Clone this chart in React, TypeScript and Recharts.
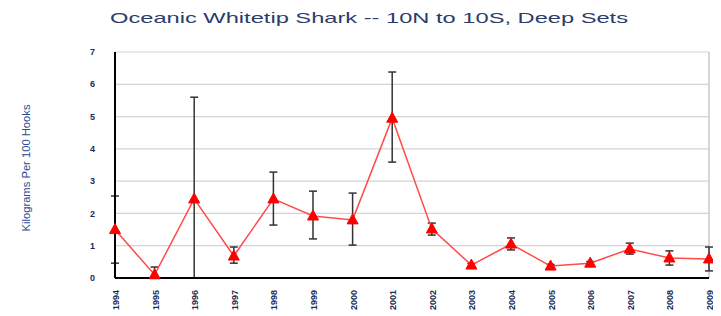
import React from 'react';
import { LineChart, Line, XAxis, YAxis, CartesianGrid, ErrorBar, ReferenceLine } from 'recharts';

const years = [1994, 1995, 1996, 1997, 1998, 1999, 2000, 2001, 2002, 2003, 2004, 2005, 2006, 2007, 2008, 2009];
const cpue = [1.5, 0.1, 2.45, 0.68, 2.45, 1.92, 1.8, 4.95, 1.52, 0.4, 1.05, 0.37, 0.46, 0.9, 0.62, 0.59];
const errLow = [1.04, 0.1, 2.45, 0.22, 0.81, 0.71, 0.78, 1.36, 0.19, 0.05, 0.18, 0.05, 0.05, 0.16, 0.22, 0.37];
const errHigh = [1.04, 0.24, 3.15, 0.28, 0.83, 0.77, 0.83, 1.43, 0.18, 0.05, 0.19, 0.05, 0.05, 0.18, 0.22, 0.37];
const yTicks = [0, 1, 2, 3, 4, 5, 6, 7];
const titleText = 'Oceanic Whitetip Shark -- 10N to 10S, Deep Sets';
const yLabelText = 'Kilograms Per 100 Hooks';

const data = years.map((y, i) => ({ year: y, value: cpue[i], err: [errLow[i], errHigh[i]] }));

const FONT = "Arial, 'Liberation Sans', sans-serif";

const Triangle = (props: any) => {
  const { cx, cy } = props;
  if (cx == null || cy == null) return null;
  return <polygon points={`${cx},${cy - 6} ${cx - 5.5},${cy + 4} ${cx + 5.5},${cy + 4}`} fill="#ff0000" stroke="#ff0000" />;
};

const XTick = (props: any) => {
  const { x, y, payload } = props;
  return (
    <text transform={`translate(${x + 1},${y + 4}) rotate(-90)`} textAnchor="end" dominantBaseline="central"
      fontSize={9} fontWeight="bold" textLength={20} lengthAdjust="spacingAndGlyphs"
      fontFamily={FONT} fill="#1c2c58">
      {payload.value}
    </text>
  );
};

export default function App() {
  return (
    <div style={{ position: 'relative', width: 713, height: 308, background: '#fff' }}>
      <LineChart width={713} height={308} data={data} margin={{ top: 44, right: 12, left: 0, bottom: 0 }}>
        <CartesianGrid vertical={false} stroke="#d4d4d4" strokeWidth={1.2} />
        <XAxis dataKey="year" type="number" domain={[1994, 2009]} ticks={years} interval={0}
          height={38} tick={<XTick />} tickLine={false} axisLine={{ stroke: '#000', strokeWidth: 2 }} />
        <YAxis domain={[0, 7]} ticks={yTicks} width={107} tickLine={false} tickMargin={14}
          axisLine={{ stroke: '#000', strokeWidth: 2 }}
          tick={{ fontSize: 9, fill: '#1c2c58', fontWeight: 'bold', fontFamily: FONT }} />
        <ReferenceLine x={2009} stroke="#c8c8c8" strokeWidth={1.5} />
        <Line type="linear" dataKey="value" stroke="#ff4a4a" strokeWidth={1.5} dot={<Triangle />} activeDot={false} isAnimationActive={false}>
          <ErrorBar dataKey="err" width={4} stroke="#333" strokeWidth={1.5} direction="y" />
        </Line>
      </LineChart>
      <svg width={713} height={308} style={{ position: 'absolute', left: 0, top: 0, pointerEvents: 'none' }}>
        <text x={361} y={15} textAnchor="middle" fontSize={15} fontFamily={FONT} fill="#2c3c6c"
          textLength={518} lengthAdjust="spacingAndGlyphs">{titleText}</text>
        <text transform="translate(22,160) rotate(-90)" textAnchor="middle" fontSize={10} fontFamily={FONT}
          fill="#2c4a90" textLength={127} lengthAdjust="spacingAndGlyphs">{yLabelText}</text>
      </svg>
    </div>
  );
}
